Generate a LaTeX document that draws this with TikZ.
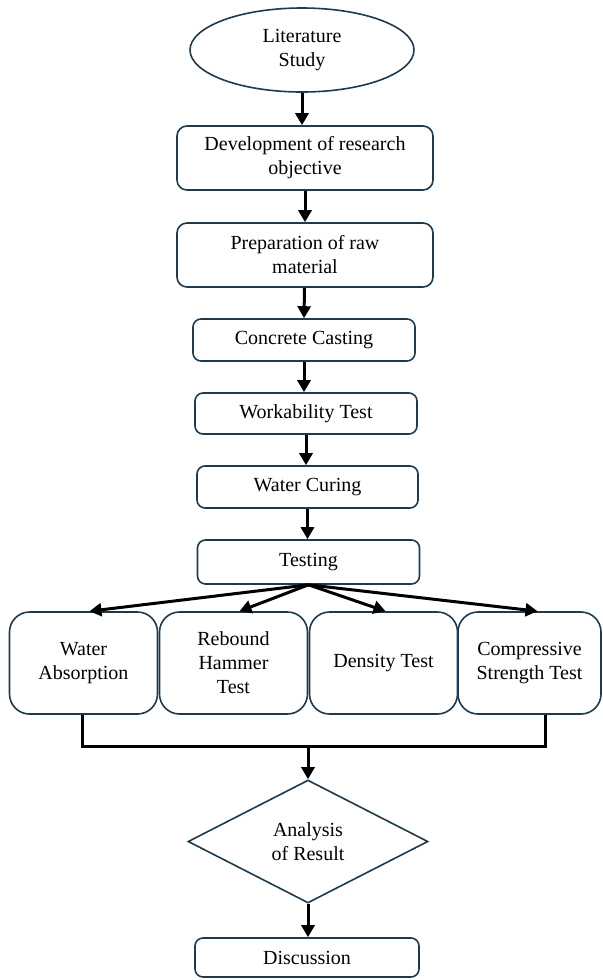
\documentclass[tikz,border=0pt]{standalone}
\usepackage{fontspec}
\setmainfont{Liberation Serif}
\usetikzlibrary{shapes.geometric,arrows.meta,calc}
\definecolor{edgeblue}{HTML}{1E3A4C}
\tikzset{
	stepbox/.style={draw=edgeblue,line width=0.8pt,rounded corners=4pt,align=center,inner sep=0pt},
	testbox/.style={stepbox,rounded corners=10pt,minimum width=74pt,minimum height=51pt},
	arr/.style={line width=1.5pt,-{Triangle[width=6.5pt,length=6pt]}},
	mergeline/.style={line width=1.5pt},
}

\begin{document}
\begin{tikzpicture}[x=0.5pt,y=-0.5pt]
	\useasboundingbox (0,0) rectangle (602,980);
	\node[draw=edgeblue,ellipse,line width=0.8pt,minimum width=112pt,minimum height=42pt,align=center,inner sep=0pt] (b0) at (302,50) {Literature\\Study};
	\node[stepbox,rounded corners=5pt,minimum width=128pt,minimum height=32pt] (b1) at (305,158) {Development of research\\objective};
	\node[stepbox,rounded corners=5pt,minimum width=128pt,minimum height=32pt] (b2) at (305,255) {Preparation of raw\\material};
	\node[stepbox,minimum width=111pt,minimum height=21pt] (b3) at (304,340) {Concrete Casting};
	\node[stepbox,minimum width=111pt,minimum height=20.5pt] (b4) at (306,413.5) {Workability Test};
	\node[stepbox,minimum width=110.5pt,minimum height=21pt] (b5) at (307.5,487) {Water Curing};
	\node[stepbox,minimum width=111pt,minimum height=22pt] (b6) at (308.5,562) {Testing};
	\node[testbox] (t1) at (83.5,663) {Water\\Absorption};
	\node[testbox] (t2) at (233.5,663) {Rebound\\Hammer\\Test};
	\node[testbox] (t3) at (383.5,663) {Density Test};
	\node[testbox,minimum width=71.5pt] (t4) at (529.5,663) {Compressive\\Strength Test};
	\node[draw=edgeblue,diamond,line width=0.8pt,minimum width=120pt,minimum height=61.5pt,align=center,inner sep=0pt] (d1) at (308,841.5) {Analysis\\of Result};
	\node[stepbox,minimum width=112pt,minimum height=19.5pt] (b8) at (307,957.5) {Discussion};
	\coordinate (j1) at (82,746);
	\coordinate (j2) at (545,746);
	\coordinate (j0) at (308,746);
	\draw[arr] (b0) -- (b0 |- b1.north);
	\draw[arr] (b1) -- (b1 |- b2.north);
	\draw[arr] (b2) -- (b3 |- b3.north);
	\draw[arr] (b3) -- (b3 |- b4.north);
	\draw[arr] (b4) -- (b4 |- b5.north);
	\draw[arr] (b5) -- (b5 |- b6.north);
	\draw[arr] (b6.south) -- ([xshift=3pt]t1.north);
	\draw[arr] (b6.south) -- ([xshift=3pt]t2.north);
	\draw[arr] (b6.south) -- ([xshift=1pt]t3.north);
	\draw[arr] (b6.south) -- ([xshift=4pt]t4.north);
	\draw[mergeline] (t1.south -| j1) -- (j1) -- (j2) -- (t4.south -| j2);
	\draw[arr] (j0) -- (d1.north);
	\draw[arr] (d1.south) -- (d1 |- b8.north);
\end{tikzpicture}
\end{document}
